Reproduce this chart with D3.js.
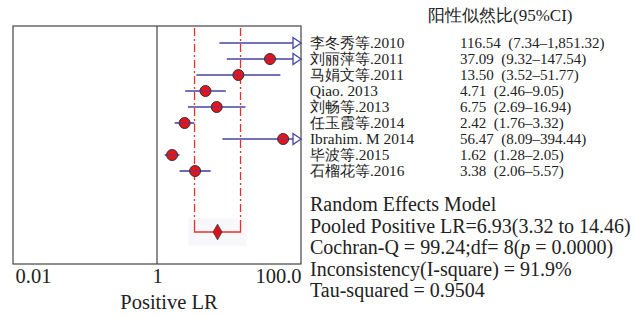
<!DOCTYPE html>
<html>
<head>
<meta charset="utf-8">
<script src="https://cdn.jsdelivr.net/npm/d3@7"></script>
<style>
  body { margin: 0; background: #fff; }
  svg text { font-family: "Times New Roman", Times, "Liberation Serif", "DejaVu Serif", serif; fill: #222; }
</style>
</head>
<body>
<div id="chart"></div>
<script>
// study data
const studies = ["李冬秀等.2010", "刘丽萍等.2011", "马娟文等.2011", "Qiao. 2013", "刘畅等.2013",
    "任玉霞等.2014", "Ibrahim. M 2014", "毕波等.2015", "石榴花等.2016"];
const lr = [116.54, 37.09, 13.50, 4.71, 6.75, 2.42, 56.47, 1.62, 3.38];
const lower = [7.34, 9.32, 3.52, 2.46, 2.69, 1.76, 8.09, 1.28, 2.06];
const upper = [1851.32, 147.54, 51.77, 9.05, 16.94, 3.32, 394.44, 2.05, 5.57];
const ciText = ["116.54  (7.34–1,851.32)", "37.09  (9.32–147.54)", "13.50  (3.52–51.77)",
    "4.71  (2.46–9.05)", "6.75  (2.69–16.94)", "2.42  (1.76–3.32)", "56.47  (8.09–394.44)",
    "1.62  (1.28–2.05)", "3.38  (2.06–5.57)"];
const pooled = { est: 6.93, lo: 3.32, hi: 14.46 };
const tickValues = [0.01, 1, 100];
const tickLabels = ["0.01", "1", "100.0"];
const summaryLines = ["Random Effects Model", "Pooled Positive LR=6.93(3.32 to 14.46)",
    "Cochran-Q = 99.24;df= 8(p = 0.0000)", "Inconsistency(I-square) = 91.9%", "Tau-squared = 0.9504"];

const W = 635, H = 317;
const box = { left: 13, right: 301, top: 26, bottom: 264 };

const svg = d3.select("#chart").append("svg")
    .attr("width", W).attr("height", H);

const x = d3.scaleLog().domain([0.01, 100]).range([box.left, box.right]);
const y = d3.scaleBand().domain(d3.range(studies.length))
    .range([35, 179]);
const rowY = i => y(i) + y.bandwidth() / 2;
const pooledY = 232;

// one record per study
const data = studies.map((name, i) => ({ i, name, lr: lr[i], lo: lower[i], hi: upper[i] }));

// faint shading behind pooled estimate
svg.append("rect")
    .attr("x", x(pooled.lo) - 6).attr("y", pooledY - 14)
    .attr("width", x(pooled.hi) - x(pooled.lo) + 12).attr("height", 28)
    .attr("fill", "#f7f7fc");

// plot frame
svg.append("rect")
    .attr("x", box.left).attr("y", box.top)
    .attr("width", box.right - box.left).attr("height", box.bottom - box.top)
    .attr("fill", "none").attr("stroke", "#444").attr("stroke-width", 1.2);

// line of no effect
svg.append("line")
    .attr("x1", x(1)).attr("x2", x(1))
    .attr("y1", box.top).attr("y2", box.bottom)
    .attr("stroke", "#444").attr("stroke-width", 1.2);

// pooled CI dash-dot lines
[pooled.lo, pooled.hi].forEach(v => {
    svg.append("line")
        .attr("x1", x(v)).attr("x2", x(v))
        .attr("y1", box.top + 2).attr("y2", pooledY - 10)
        .attr("stroke", "#e8322a").attr("stroke-width", 1.3)
        .attr("stroke-dasharray", "8,3,2,3");
});
svg.append("path")
    .attr("d", `M${x(pooled.lo)},${pooledY - 10}V${pooledY}H${x(pooled.hi)}V${pooledY - 10}`)
    .attr("fill", "none").attr("stroke", "#e8322a").attr("stroke-width", 1.3);
svg.append("path")
    .attr("d", d3.symbol(d3.symbolDiamond, 70)())
    .attr("transform", `translate(${x(pooled.est)},${pooledY})`)
    .attr("fill", "#e0101a").attr("stroke", "#333").attr("stroke-width", 0.8);

// study CIs
const clip = v => Math.min(Math.max(v, 0.01), 100);
const rows = svg.append("g").selectAll("g").data(data).join("g");

rows.append("line")
    .attr("x1", d => x(clip(d.lo)))
    .attr("x2", d => d.hi > 100 ? x(100) - 8 : x(d.hi))
    .attr("y1", d => rowY(d.i)).attr("y2", d => rowY(d.i))
    .attr("stroke", "#4545a6").attr("stroke-width", 1.6);

rows.filter(d => d.hi > 100).append("path")
    .attr("d", d => {
        const tx = x(100), ty = rowY(d.i);
        return `M${tx - 8},${ty - 5.5}L${tx},${ty}L${tx - 8},${ty + 5.5}Z`;
    })
    .attr("fill", "#fff").attr("stroke", "#4545a6").attr("stroke-width", 1.3);

const pts = rows.filter(d => d.lr <= 100);
pts.append("circle")
    .attr("cx", d => x(d.lr))
    .attr("cy", d => rowY(d.i))
    .attr("r", 5.5)
    .attr("fill", "#e3141c").attr("stroke", "#333").attr("stroke-width", 1);
pts.append("line")
    .attr("x1", d => x(d.lr) - 5).attr("x2", d => x(d.lr) + 5)
    .attr("y1", d => rowY(d.i)).attr("y2", d => rowY(d.i))
    .attr("stroke", "#4545a6").attr("stroke-width", 1.2).attr("opacity", 0.6);

// x axis
const xAxis = d3.axisBottom(x).tickValues(tickValues)
    .tickFormat((d, i) => tickLabels[i]).tickSize(0).tickPadding(0);
const ax = svg.append("g").attr("transform", `translate(0,${box.bottom})`).call(xAxis);
ax.attr("font-family", null).attr("font-size", null);
ax.select(".domain").remove();
ax.selectAll("text")
    .attr("y", 19).attr("dy", 0)
    .style("font-size", "20.5px").attr("fill", "#222")
    .attr("text-anchor", (d, i) => ["start", "middle", "end"][i]);
ax.selectAll("text").filter((d, i) => i === 0).attr("dx", 2);

svg.append("text")
    .attr("x", 169).attr("y", 309)
    .attr("text-anchor", "middle")
    .style("font-size", "20.5px")
    .text("Positive LR");

// right-hand table
svg.append("text")
    .attr("x", 428).attr("y", 21)
    .style("font-size", "17px")
    .text("阳性似然比(95%CI)");

const labels = svg.append("g");
labels.selectAll("text.study").data(studies).join("text")
    .attr("class", "study")
    .attr("x", 310).attr("y", (d, i) => rowY(i) + 5)
    .style("font-size", "15.3px")
    .text(d => d);
labels.selectAll("text.ci").data(ciText).join("text")
    .attr("class", "ci")
    .attr("x", 460).attr("y", (d, i) => rowY(i) + 5)
    .style("font-size", "15px")
    .style("white-space", "pre")
    .text(d => d);

// summary block
const sum = svg.append("g").selectAll("text").data(summaryLines).join("text")
    .attr("x", 310).attr("y", (d, i) => 211 + i * 21.5)
    .style("font-size", "20px")
    .style("white-space", "pre");
sum.each(function(d) {
    const t = d3.select(this);
    const m = d.match(/^(.*\()p( = .*)$/);
    if (m) {
        t.append("tspan").text(m[1]);
        t.append("tspan").style("font-style", "italic").text("p");
        t.append("tspan").text(m[2]);
    } else {
        t.text(d);
    }
});
</script>
</body>
</html>
